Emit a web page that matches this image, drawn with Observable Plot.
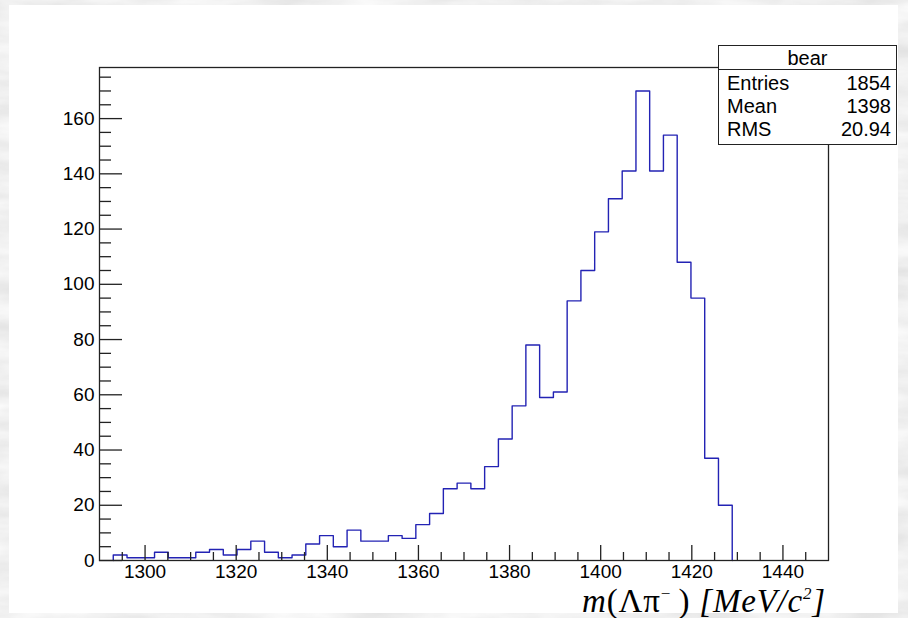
<!DOCTYPE html>
<html>
<head>
<meta charset="utf-8">
<script src="https://cdn.jsdelivr.net/npm/d3@7"></script>
<script src="https://cdn.jsdelivr.net/npm/@observablehq/plot@0.6"></script>
<style>
  html, body { margin: 0; padding: 0; }
  body { width: 908px; height: 618px; overflow: hidden; }
  #wrap { position: relative; width: 908px; height: 618px; }
  #bg { position: absolute; left: 0; top: 0; }
  #pad { position: absolute; left: 9px; top: 5px; width: 889px; height: 608px; background: #fff; }
  #chart { position: absolute; left: 0; top: 0; }
  #stats { position: absolute; left: 718px; top: 45px; width: 177px; height: 98px;
           border: 1px solid #222; background: #fff; font-family: "Liberation Sans", Arial, sans-serif;
           font-size: 20px; color: #000; }
  #stats .hdr { position: absolute; left: 0; top: 0; width: 100%; height: 23px; border-bottom: 1px solid #222;
                text-align: center; line-height: 24px; }
  #stats .row { position: absolute; left: 8px; right: 5px; height: 22px; line-height: 22px; }
  #stats .row span.v { position: absolute; right: 0; }
  #xtitle { position: absolute; right: 82px; top: 591px; font-family: "Liberation Serif", "DejaVu Serif", serif;
            font-size: 33px; line-height: 20px; letter-spacing: 0.8px; color: #000; white-space: nowrap; }
  #xtitle sup { font-size: 17px; line-height: 0; vertical-align: 0; position: relative; top: -13px; }
</style>
</head>
<body>
<div id="wrap">
  <svg id="bg" width="908" height="618">
    <filter id="marble" x="0" y="0" width="100%" height="100%">
      <feTurbulence type="fractalNoise" baseFrequency="0.012 0.05" numOctaves="4" seed="3" result="n"/>
      <feColorMatrix type="matrix" in="n"
        values="0.3 0 0 0 0.72
                0.3 0 0 0 0.72
                0.3 0 0 0 0.72
                0 0 0 0 1"/>
    </filter>
    <rect width="908" height="618" fill="#ddd" filter="url(#marble)"/>
  </svg>
  <div id="pad"></div>
  <div id="chart"></div>
  <div id="stats">
    <div class="hdr">bear</div>
    <div class="row" style="top:26px"><span>Entries</span><span class="v">1854</span></div>
    <div class="row" style="top:49px"><span>Mean</span><span class="v">1398</span></div>
    <div class="row" style="top:72px"><span>RMS</span><span class="v">20.94</span></div>
  </div>
  <div id="xtitle"><i>m</i>(Λπ<sup>−</sup>&thinsp;) <i>[MeV/c<sup>2</sup>]</i></div>
</div>
<script>
// Bin lower edges (MeV/c^2) of the filled bins, plus the upper edge of the last one
const binEdges = [1293.02, 1296.04, 1299.06, 1302.08, 1305.09, 1308.11, 1311.13, 1314.15, 1317.17, 1320.19,
                  1323.21, 1326.23, 1329.25, 1332.26, 1335.28, 1338.30, 1341.32, 1344.34, 1347.36, 1350.38,
                  1353.40, 1356.42, 1359.43, 1362.45, 1365.47, 1368.49, 1371.51, 1374.53, 1377.55, 1380.57,
                  1383.58, 1386.60, 1389.62, 1392.64, 1395.66, 1398.68, 1401.70, 1404.72, 1407.74, 1410.75,
                  1413.77, 1416.79, 1419.81, 1422.83, 1425.85, 1428.87];
// Entries per bin
const counts = [2, 1, 1, 3, 1, 1, 3, 4, 2, 4,
                7, 3, 1, 2, 6, 9, 5, 11, 7, 7,
                9, 8, 13, 17, 26, 28, 26, 34, 44, 56,
                78, 59, 61, 94, 105, 119, 131, 141, 170, 141,
                154, 108, 95, 37, 20];
const xDomain = [1290, 1450];
const yDomain = [0, 178.5];
const xMajor = [1300, 1320, 1340, 1360, 1380, 1400, 1420, 1440];
const xMinor = [1295, 1305, 1310, 1315, 1325, 1330, 1335, 1345, 1350, 1355, 1365, 1370, 1375,
                1385, 1390, 1395, 1405, 1410, 1415, 1425, 1430, 1435, 1445];
const yMajor = [0, 20, 40, 60, 80, 100, 120, 140, 160];
const yMinor = [5, 10, 15, 25, 30, 35, 45, 50, 55, 65, 70, 75, 85, 90, 95, 105, 110, 115,
                125, 130, 135, 145, 150, 155, 165, 170, 175];

const pts = [{x: binEdges[0], y: 0}];
counts.forEach((c, i) => pts.push({x: binEdges[i], y: c}));
pts.push({x: binEdges[binEdges.length - 1], y: 0});

const axisColor = "#222";
const fmt = d => String(d);
const chart = Plot.plot({
  width: 908, height: 618,
  marginLeft: 99, marginRight: 80, marginTop: 67, marginBottom: 58,
  x: {domain: xDomain, label: null},
  y: {domain: yDomain, label: null},
  style: {background: "transparent", fontFamily: "'Liberation Sans', Arial, sans-serif", fontSize: "19px", color: "#000"},
  marks: [
    Plot.line(pts, {x: "x", y: "y", curve: "step-after", stroke: "#2323b4", strokeWidth: 1.4}),
    Plot.axisX(xMinor, {tickSize: -8, text: null, stroke: axisColor, strokeWidth: 1.3, label: null}),
    Plot.axisX(xMajor, {tickSize: -15, text: null, stroke: axisColor, strokeWidth: 1.3, label: null}),
    Plot.axisX(xMajor, {tickSize: 0, tickPadding: 4, label: null, fill: "#000", fontSize: 19, tickFormat: fmt}),
    Plot.axisY(yMinor, {tickSize: -12, text: null, stroke: axisColor, strokeWidth: 1.3, label: null}),
    Plot.axisY(yMajor, {tickSize: -23, text: null, stroke: axisColor, strokeWidth: 1.3, label: null}),
    Plot.axisY(yMajor, {tickSize: 0, tickPadding: 5, label: null, fill: "#000", fontSize: 19, tickFormat: fmt}),
    Plot.frame({stroke: axisColor, strokeWidth: 1.3})
  ]
});
d3.select(chart).selectAll("text").attr("font-size", 19).style("font-size", "19px");
document.getElementById("chart").appendChild(chart);
</script>
</body>
</html>
